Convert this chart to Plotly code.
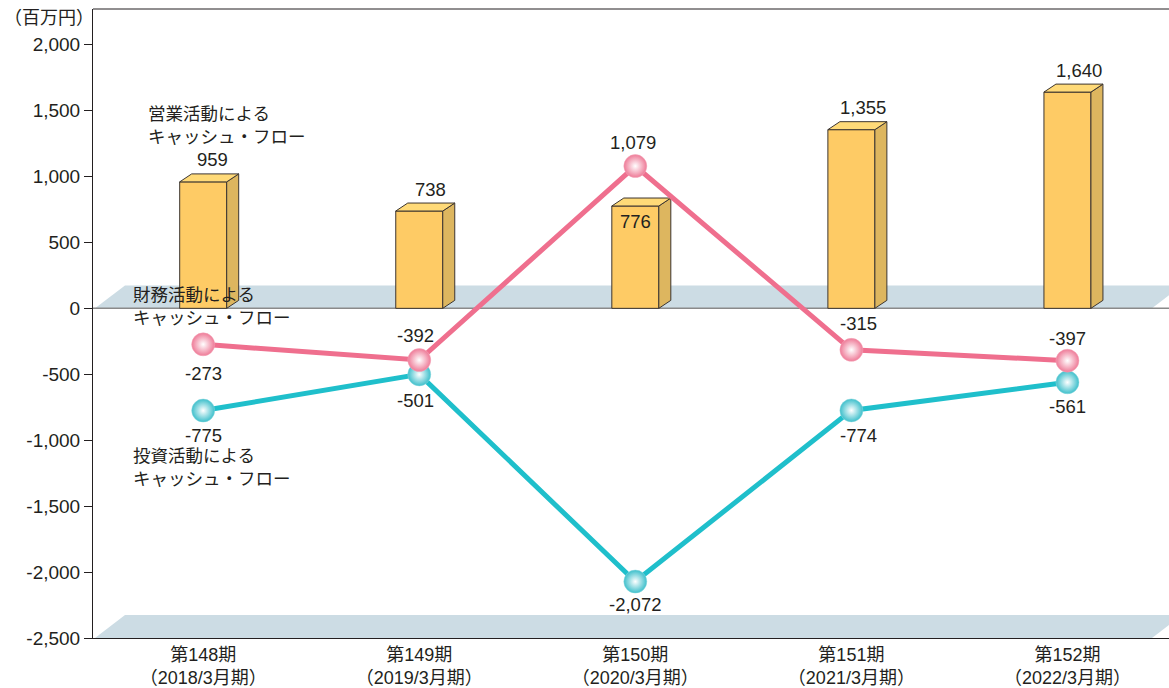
import plotly.graph_objects as go

periods = ["第148期", "第149期", "第150期", "第151期", "第152期"]
fiscal = ["（2018/3月期）", "（2019/3月期）", "（2020/3月期）", "（2021/3月期）", "（2022/3月期）"]
operating_cf = [959, 738, 776, 1355, 1640]
financing_cf = [-273, -392, 1079, -315, -397]
investing_cf = [-775, -501, -2072, -774, -561]
y_ticks = [-2500, -2000, -1500, -1000, -500, 0, 500, 1000, 1500, 2000]

# label offsets (pixels)
op_label_shift = [22, 22, -15, 22, 22]
op_label_xshift = [9, 11, 0, 12, 12]
fin_label_shift = [-29, 25, 24, 26, 22]
fin_label_xshift = [0, -4, -2, 7, 0]
inv_label_shift = [-25, -26, -23, -25, -24]
inv_label_xshift = [0, -4, 0, 7, 0]

W, H = 1169, 688
ML, MR, MT, MB = 93, 0, 9, 48
YMIN, YMAX = -2500, 2270
XMIN, XMAX = -0.51, 4.47
plot_w = W - ML - MR
plot_h = H - MT - MB
px_per_x = plot_w / (XMAX - XMIN)
px_per_y = plot_h / (YMAX - YMIN)

BAR_W = 47 / px_per_x
DX = 12 / px_per_x
DY = 8 / px_per_y

FONT = "Liberation Sans, Arial, Noto Sans CJK JP, sans-serif"
TXT = "#231F20"

xs = list(range(len(periods)))

fig = go.Figure()

# front face of bars
fig.add_trace(go.Bar(
    x=xs, y=operating_cf, width=BAR_W,
    marker=dict(color="#FECB65", line=dict(color="#3C3530", width=1)),
    hoverinfo="skip", showlegend=False,
))

# side faces and top faces of bars (3D effect)
side_x, side_y, top_x, top_y = [], [], [], []
for c, v in zip(xs, operating_cf):
    r = c + BAR_W / 2
    l = c - BAR_W / 2
    side_x += [r, r + DX, r + DX, r, r, None]
    side_y += [0, DY, v + DY, v, 0, None]
    top_x += [l, l + DX, r + DX, r, l, None]
    top_y += [v, v + DY, v + DY, v, v, None]
fig.add_trace(go.Scatter(x=side_x, y=side_y, mode="lines", fill="toself",
                         fillcolor="#DDB65F", line=dict(color="#3C3530", width=1),
                         hoverinfo="skip", showlegend=False))
fig.add_trace(go.Scatter(x=top_x, y=top_y, mode="lines", fill="toself",
                         fillcolor="#FFDA78", line=dict(color="#3C3530", width=1),
                         hoverinfo="skip", showlegend=False))

# lines
fig.add_trace(go.Scatter(
    x=xs, y=investing_cf, mode="lines+markers",
    line=dict(color="#1FBFCB", width=5),
    marker=dict(size=23, color="#3DBFCB", gradient=dict(type="radial", color="#FFFFFF"),
                line=dict(color="#8FD8DE", width=0.5)),
    hoverinfo="skip", showlegend=False,
))
fig.add_trace(go.Scatter(
    x=xs, y=financing_cf, mode="lines+markers",
    line=dict(color="#EF6F8E", width=5),
    marker=dict(size=23, color="#EE7A97", gradient=dict(type="radial", color="#FFFFFF"),
                line=dict(color="#F5A9BB", width=0.5)),
    hoverinfo="skip", showlegend=False,
))

ann = []
def num(v):
    return f"{v:,}"

NUM_SIZE = 18.5
for c, v, ys, xsft in zip(xs, operating_cf, op_label_shift, op_label_xshift):
    ann.append(dict(x=c, y=v, text=num(v), showarrow=False, xshift=xsft, yshift=ys,
                    font=dict(size=NUM_SIZE, color=TXT, family=FONT)))
for c, v, ys, xsft in zip(xs, financing_cf, fin_label_shift, fin_label_xshift):
    ann.append(dict(x=c, y=v, text=num(v), showarrow=False, xshift=xsft, yshift=ys,
                    font=dict(size=NUM_SIZE, color=TXT, family=FONT)))
for c, v, ys, xsft in zip(xs, investing_cf, inv_label_shift, inv_label_xshift):
    ann.append(dict(x=c, y=v, text=num(v), showarrow=False, xshift=xsft, yshift=ys,
                    font=dict(size=NUM_SIZE, color=TXT, family=FONT)))

def px2paper_x(px):
    return (px - ML) / plot_w

def px2paper_y(py):
    return 1 - (py - MT) / plot_h

series_labels = [
    ("営業活動による<br>キャッシュ・フロー", 146, 126),
    ("財務活動による<br>キャッシュ・フロー", 131, 307),
    ("投資活動による<br>キャッシュ・フロー", 131, 469),
]
for t, lx, ly in series_labels:
    ann.append(dict(xref="paper", yref="paper", x=px2paper_x(lx), y=px2paper_y(ly),
                    xanchor="left", yanchor="middle", align="left", text=t, showarrow=False,
                    font=dict(size=17.5, color=TXT, family=FONT)))

ann.append(dict(xref="paper", yref="paper", x=px2paper_x(2), y=px2paper_y(18),
                xanchor="left", yanchor="middle", text="（百万円）", showarrow=False,
                font=dict(size=18, color=TXT, family=FONT)))

floor_h = 23 / px_per_y
shapes = []
for base in [0, YMIN]:
    shapes.append(dict(
        type="path", xref="paper", yref="y", layer="below",
        path=f"M {px2paper_x(95)},{base} L {px2paper_x(125)},{base + floor_h} "
             f"L {px2paper_x(1182)},{base + floor_h} L {px2paper_x(1152)},{base} Z",
        fillcolor="#CCDCE4", line=dict(width=0),
    ))
shapes.append(dict(type="line", xref="paper", yref="y", x0=0, x1=1, y0=0, y1=0,
                   line=dict(color="#8A8A8A", width=1.5), layer="below"))
shapes.append(dict(type="line", xref="paper", yref="paper", x0=0, x1=1, y0=1, y1=1,
                   line=dict(color="#231F20", width=1)))

fig.update_layout(
    width=W, height=H,
    margin=dict(l=ML, r=MR, t=MT, b=MB),
    paper_bgcolor="white", plot_bgcolor="white",
    showlegend=False,
    annotations=ann, shapes=shapes,
    font=dict(family=FONT, color=TXT, size=18),
    xaxis=dict(range=[XMIN, XMAX], tickvals=xs,
               ticktext=[f"{p}<br>{f}" for p, f in zip(periods, fiscal)],
               showline=True, linecolor="#231F20", linewidth=1,
               showgrid=False, zeroline=False, ticks="",
               tickfont=dict(size=18, family=FONT, color=TXT)),
    yaxis=dict(range=[YMIN, YMAX], tickvals=y_ticks,
               ticktext=[f"{t:,}" for t in y_ticks],
               showline=True, linecolor="#231F20", linewidth=1,
               ticks="outside", ticklen=8, tickcolor="#231F20",
               showgrid=False, zeroline=False,
               tickfont=dict(size=19, family=FONT, color=TXT)),
)

fig.write_html("out.html")
